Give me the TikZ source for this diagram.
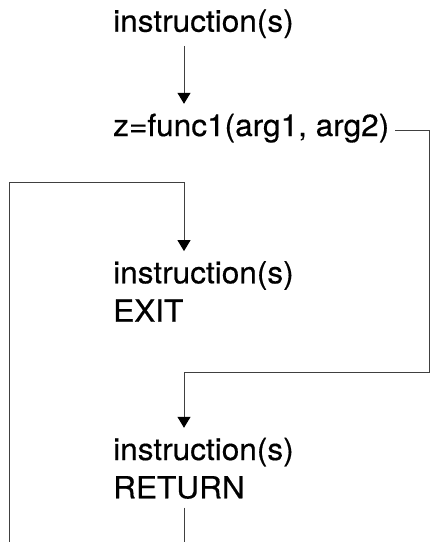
\documentclass[tikz,border=0pt]{standalone}
\usepackage{fontspec}
\setmainfont{TeX Gyre Heros}[FakeStretch=1.035,FakeBold=0.4]
\usetikzlibrary{arrows.meta}
\begin{document}
\begin{tikzpicture}[x=1pt,y=-1pt,
  txt/.style={anchor=base west,inner xsep=0pt,inner ysep=9pt,text height=23pt,text depth=5pt,font=\fontsize{30.5}{36}\selectfont},
  conn/.style={draw=black!75,line width=1pt},
  arr/.style={-{Triangle[length=11pt,width=13pt,color=black]}}]
\useasboundingbox (0,0) rectangle (430,542);
\coordinate (col) at (184,0);
\node[txt] (ins1) at (113,31.7) {instruction(s)};
\node[txt] (func) at (113,136) {z=func1(arg1, arg2)};
\node[txt] (ins2) at (113,283.3) {instruction(s)};
\node[txt] (exit) at (113,321.7) {EXIT};
\node[txt] (ins3) at (113,460) {instruction(s)};
\node[txt] (ret) at (113,498.3) {RETURN};
\coordinate (rc) at (429,372.3);
\coordinate (lb) at (9.5,542);
\coordinate (lt) at (9.5,182.3);
\draw[conn,arr] (ins1.south -| col) -- (func.north -| col);
\draw[conn,arr] ([xshift=6pt,yshift=6pt]func.base east) -| (rc) -| (ins3.north -| col);
\draw[conn,arr] (lb) -- (lt) -| (ins2.north -| col);
\draw[conn,shorten <=-5pt] (ret.south -| col) -- (col |- lb);
\end{tikzpicture}
\end{document}
